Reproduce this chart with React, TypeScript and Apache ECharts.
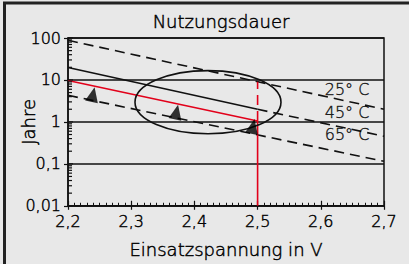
import React, { useEffect, useRef } from "react";
import * as echarts from "echarts";

const xTickValues = [2.2, 2.3, 2.4, 2.5, 2.6, 2.7];
const yTickValues = [0.01, 0.1, 1, 10, 100];
const yTickLabels = ["0,01", "0,1", "1", "10", "100"];
const yMinorMultipliers = [2, 3, 4, 5, 6, 7, 8, 9];
const yDecades = [0.01, 0.1, 1, 10];

const line25 = [[2.2, 88], [2.7, 2.0]];
const line45Solid = [[2.2, 19.7], [2.5, 2.0]];
const line45Dashed = [[2.5, 2.0], [2.7, 0.456]];
const line65 = [[2.2, 4.3], [2.7, 0.115]];
const redLine = [[2.2, 9.7], [2.5, 1.05]];
const redDrop = [[2.5, 1.05], [2.5, 0.01]];
const redRise = [[2.5, 1.05], [2.5, 9.0]];

const arrowPoints = [[2.2396, 4.5], [2.3717, 1.72], [2.4927, 0.78]];
const tempLabels = ["25° C", "45° C", "65° C"];
const tempLabelPoints = [[2.6415, 5.97], [2.6415, 1.72], [2.6415, 0.494]];

const ellipseX = [2.306, 2.537];
const ellipseY = [0.52, 16.7];

const FONT = "DejaVu Sans";
const WEIGHT = 200;
const INK = "#000000";
const TB = { textBorderColor: "#000000", textBorderWidth: 0.45 };

export default function App() {
  const ref = useRef<HTMLDivElement>(null);
  useEffect(() => {
    if (!ref.current) return;
    const chart = echarts.init(ref.current, undefined, { renderer: "svg" });
    const yMinor: number[][] = [];
    yDecades.forEach((d) => yMinorMultipliers.forEach((m) => yMinor.push([2.2, d * m])));
    const yMajor: number[][] = yTickValues.map((v) => [2.2, v]);

    const tickSeries = (data: number[][], len: number) => ({
      type: "custom",
      silent: true,
      clip: false,
      data,
      renderItem: (_p: any, api: any) => {
        const pt = api.coord([api.value(0), api.value(1)]);
        return {
          type: "line",
          shape: { x1: pt[0], y1: pt[1], x2: pt[0] + len, y2: pt[1] },
          style: { stroke: "#111", lineWidth: 1.2 },
        };
      },
      z: 4,
    });

    const lineSeries = (data: number[][], color: string, dashed: boolean) => ({
      type: "line",
      data,
      symbol: "none",
      silent: true,
      lineStyle: { color, width: 1.6, type: dashed ? [10, 6] : "solid" },
      z: 3,
    });

    chart.setOption({
      animation: false,
      backgroundColor: "#e8e8e8",
      textStyle: { fontFamily: FONT, color: INK, fontWeight: WEIGHT },
      grid: { left: 68, top: 38, right: 25, bottom: 56, show: true, borderColor: "#111", borderWidth: 1.5, backgroundColor: "transparent" },
      graphic: [
        { type: "rect", shape: { x: 4.5, y: 3, width: 440, height: 300 }, style: { fill: "none", stroke: "#222", lineWidth: 3 }, silent: true },
        {
          type: "text",
          x: 221,
          y: 21,
          style: { text: "Nutzungsdauer", fontFamily: FONT, fontWeight: WEIGHT, fontSize: 18, fill: INK, stroke: INK, lineWidth: 0.45, align: "center", verticalAlign: "middle" },
        },
      ],
      xAxis: [
        {
          type: "value",
          min: 2.2,
          max: 2.7,
          interval: 0.1,
          name: "Einsatzspannung in V",
          nameLocation: "middle",
          nameGap: 35,
          nameMoveOverlap: false,
          nameTextStyle: { fontSize: 18, color: INK, fontFamily: FONT, fontWeight: WEIGHT, ...TB },
          axisLine: { show: true, lineStyle: { color: "#111", width: 1.5 } },
          axisTick: { show: true, inside: true, length: 5, lineStyle: { color: "#111", width: 1.2 } },
          minorTick: { show: true, splitNumber: 10, length: 3, lineStyle: { color: "#111", width: 1 } },
          splitLine: { show: false },
          axisLabel: {
            fontSize: 16,
            color: INK,
            fontFamily: FONT,
            fontWeight: WEIGHT,
            ...TB,
            margin: 8,
            formatter: (v: number) => {
              const i = xTickValues.findIndex((t) => Math.abs(t - v) < 1e-6);
              return i >= 0 ? xTickValues[i].toFixed(1).replace(".", ",") : "";
            },
          },
        },
        {
          type: "value",
          min: 2.2,
          max: 2.7,
          interval: 0.1,
          position: "bottom",
          axisLine: { show: false },
          axisTick: { show: true, inside: false, length: 4, lineStyle: { color: "#111", width: 1.2 } },
          axisLabel: { show: false },
          splitLine: { show: false },
        },
      ],
      yAxis: {
        type: "log",
        logBase: 10,
        min: 0.01,
        max: 100,
        name: "Jahre",
        nameLocation: "middle",
        nameGap: 31,
        nameMoveOverlap: false,
        nameRotate: 90,
        nameTextStyle: { fontSize: 18, color: INK, fontFamily: FONT, fontWeight: WEIGHT, ...TB },
        axisLine: { show: true, lineStyle: { color: "#111", width: 1.5 } },
        axisTick: { show: true, inside: false, length: 4, lineStyle: { color: "#111", width: 1.2 } },
        splitLine: { show: true, lineStyle: { color: "#111", width: 1.5 } },
        axisLabel: {
          fontSize: 16,
          color: INK,
          fontFamily: FONT,
          fontWeight: WEIGHT,
          ...TB,
          margin: 7,
          formatter: (v: number) => {
            const i = yTickValues.findIndex((t) => Math.abs(Math.log10(t) - Math.log10(v)) < 1e-6);
            return i >= 0 ? yTickLabels[i] : "";
          },
        },
      },
      series: [
        tickSeries(yMinor, 4),
        tickSeries(yMajor, 5),
        lineSeries(line25, "#111", true),
        lineSeries(line45Solid, "#111", false),
        lineSeries(line45Dashed, "#111", true),
        lineSeries(line65, "#111", true),
        lineSeries(redLine, "#e2001a", false),
        lineSeries(redDrop, "#e2001a", false),
        lineSeries(redRise, "#e2001a", true),
        {
          type: "custom",
          silent: true,
          clip: false,
          data: [[ellipseX[0], ellipseY[0], ellipseX[1], ellipseY[1]]],
          renderItem: (_p: any, api: any) => {
            const a = api.coord([api.value(0), api.value(1)]);
            const b = api.coord([api.value(2), api.value(3)]);
            return {
              type: "ellipse",
              shape: { cx: (a[0] + b[0]) / 2, cy: (a[1] + b[1]) / 2, rx: Math.abs(b[0] - a[0]) / 2, ry: Math.abs(b[1] - a[1]) / 2 },
              style: { fill: "none", stroke: "#111", lineWidth: 1.6 },
            };
          },
          z: 5,
        },
        {
          type: "scatter",
          data: arrowPoints,
          symbol: "triangle",
          symbolSize: [13, 15],
          symbolRotate: -12,
          itemStyle: { color: "#000" },
          silent: true,
          z: 6,
        },
        {
          type: "scatter",
          data: tempLabelPoints.map((p, i) => ({ value: p, name: tempLabels[i] })),
          symbolSize: 0,
          silent: true,
          label: {
            show: true,
            position: "inside",
            formatter: (p: any) => p.name,
            fontSize: 16,
            color: INK,
            fontFamily: FONT,
            fontWeight: WEIGHT,
            ...TB,
          },
          z: 7,
        },
      ],
    });
    return () => chart.dispose();
  }, []);
  return <div ref={ref} style={{ position: "fixed", left: 0, top: 0, width: 409, height: 264 }} />;
}
